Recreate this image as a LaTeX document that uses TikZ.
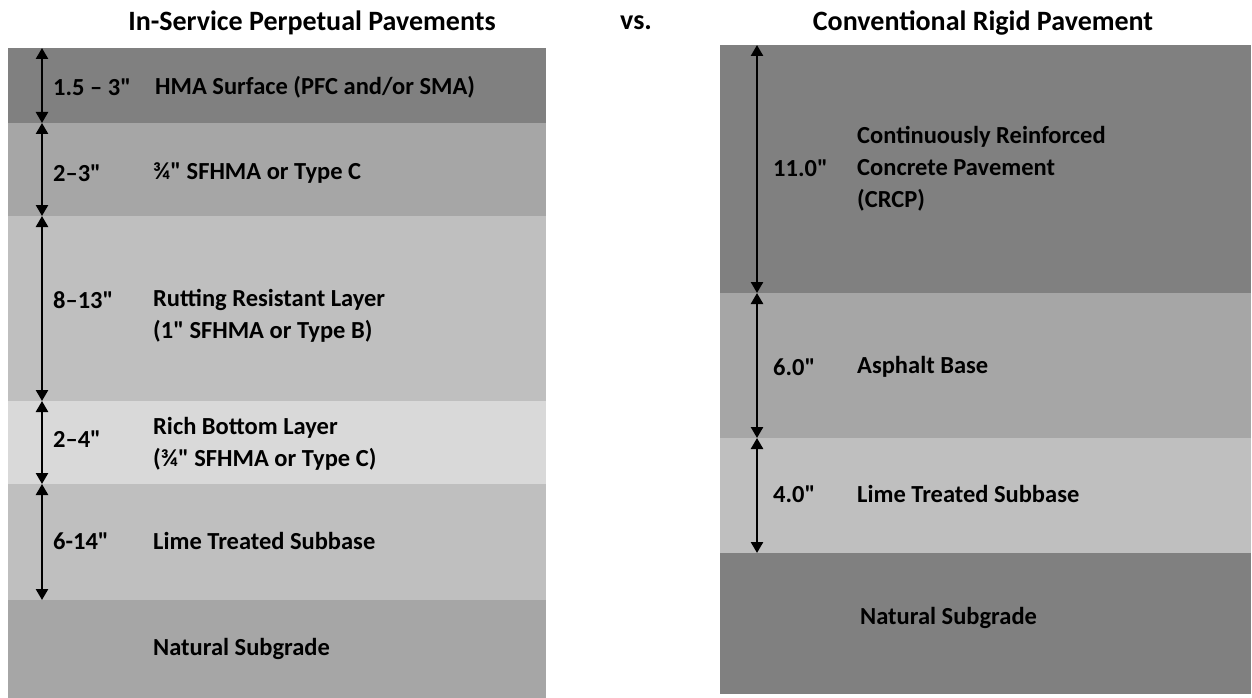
\documentclass[tikz,border=0pt]{standalone}
\usepackage{fontspec}
\setmainfont{Carlito}[Ligatures=TeXOff]
\usetikzlibrary{arrows.meta}
\begin{document}
\begin{tikzpicture}[x=1pt,y=-1pt,
  layer/.style={rectangle, draw=none, inner sep=0pt, outer sep=0pt, anchor=north west},
  txt/.style={anchor=west, inner sep=0pt, align=left,
    font=\bfseries\fontsize{24.5}{32}\selectfont},
  title/.style={inner sep=0pt, font=\bfseries\fontsize{28}{34}\selectfont},
  dim/.style={line width=2.5pt, {Triangle[width=12pt,length=11pt]}-{Triangle[width=12pt,length=11pt]}}]
\useasboundingbox (0,0) rectangle (1252,698);

% titles
\node[title] (t1) at (312,23) {In-Service Perpetual Pavements};
\node[title] (t2) at (636,23) {vs.};
\node[title] (t3) at (983,23) {Conventional Rigid Pavement};

% perpetual pavement layers
\node[layer, fill={rgb,255:red,128;green,128;blue,128}, minimum width=538pt, minimum height=75pt]  (a1) at (8,48)  {};
\node[layer, fill={rgb,255:red,166;green,166;blue,166}, minimum width=538pt, minimum height=93pt]  (a2) at (8,123) {};
\node[layer, fill={rgb,255:red,191;green,191;blue,191}, minimum width=538pt, minimum height=185pt] (a3) at (8,216) {};
\node[layer, fill={rgb,255:red,217;green,217;blue,217}, minimum width=538pt, minimum height=83pt]  (a4) at (8,401) {};
\node[layer, fill={rgb,255:red,191;green,191;blue,191}, minimum width=538pt, minimum height=116pt] (a5) at (8,484) {};
\node[layer, fill={rgb,255:red,166;green,166;blue,166}, minimum width=538pt, minimum height=98pt]  (a6) at (8,600) {};

% rigid pavement layers
\node[layer, fill={rgb,255:red,128;green,128;blue,128}, minimum width=531pt, minimum height=248pt] (b1) at (720,45)  {};
\node[layer, fill={rgb,255:red,166;green,166;blue,166}, minimum width=531pt, minimum height=145pt] (b2) at (720,293) {};
\node[layer, fill={rgb,255:red,191;green,191;blue,191}, minimum width=531pt, minimum height=115pt] (b3) at (720,438) {};
\node[layer, fill={rgb,255:red,128;green,128;blue,128}, minimum width=531pt, minimum height=141pt] (b4) at (720,553) {};

% thickness arrows
\foreach \n in {a1,a2,a3,a4,a5}
  \draw[dim] ([xshift=34pt]\n.north west) -- ([xshift=34pt]\n.south west);
\foreach \n in {b1,b2,b3}
  \draw[dim] ([xshift=37pt]\n.north west) -- ([xshift=37pt]\n.south west);

% perpetual pavement labels
\node[txt] (a1t) at (53,87)  {1.5 – 3"};
\node[txt] (a1d) at (155,87) {HMA Surface (PFC and/or SMA)};
\node[txt] (a2t) at (53,173)  {2–3"};
\node[txt] (a2d) at (153,173) {¾" SFHMA or Type C};
\node[txt] (a3t) at (53,300)  {8–13"};
\node[txt] (a3d) at (153,316) {Rutting Resistant Layer\\(1" SFHMA or Type B)};
\node[txt] (a4t) at (53,439)  {2–4"};
\node[txt] (a4d) at (153,444) {Rich Bottom Layer\\(¾" SFHMA or Type C)};
\node[txt] (a5t) at (53,541)  {6-14"};
\node[txt] (a5d) at (153,541) {Lime Treated Subbase};
\node[txt] (a6d) at (153,649) {Natural Subgrade};

% rigid pavement labels
\node[txt] (b1t) at (773,168) {11.0"};
\node[txt] (b1d) at (857,169) {Continuously Reinforced\\Concrete Pavement\\(CRCP)};
\node[txt] (b2t) at (773,367) {6.0"};
\node[txt] (b2d) at (857,367) {Asphalt Base};
\node[txt] (b3t) at (773,494) {4.0"};
\node[txt] (b3d) at (857,494) {Lime Treated Subbase};
\node[txt] (b4d) at (860,618) {Natural Subgrade};
\end{tikzpicture}
\end{document}
